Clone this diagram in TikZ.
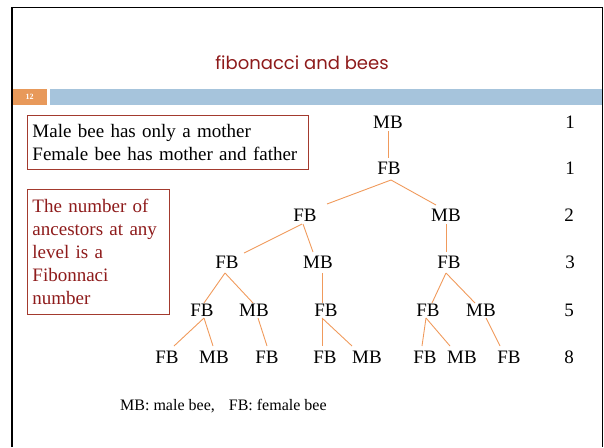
\documentclass[tikz,border=0pt]{standalone}
\usepackage{fontspec}
\setmainfont{Liberation Serif}
\newfontfamily\titlefont{Poppins}
\usetikzlibrary{calc}
\definecolor{titlered}{HTML}{8E1B1B}
\definecolor{boxred}{HTML}{A33A2E}
\definecolor{edgeor}{HTML}{F09A5C}
\definecolor{barorange}{HTML}{E8995A}
\definecolor{barblue}{HTML}{A6C4DC}
\tikzset{
  bee/.style={inner sep=0pt, font=\fontsize{19}{23}\selectfont},
  lvl/.style={inner sep=0pt, font=\fontsize{19}{23}\selectfont},
  edge/.style={draw=edgeor, line width=0.9pt},
  infobox/.style={draw=boxred, line width=0.9pt, anchor=north west, align=left,
    inner xsep=5pt, inner ysep=0pt, font=\fontsize{19}{23}\selectfont},
}
\begin{document}
\begin{tikzpicture}[x=1pt,y=-1pt]
\useasboundingbox (0,0) rectangle (604,447);
% frame
\draw[line width=2.5pt] (12,447) -- (12,7.5);
\draw[line width=1.5pt] (11,7.5) -- (602.5,7.5) -- (602.5,447);
% title
\node[anchor=base, text=titlered, font=\titlefont\fontsize{18}{22}\selectfont] (title) at (302,69) {fibonacci and bees};
% bars
\fill[barorange] (13,89) rectangle (47,105);
\node[text=white, font=\bfseries\fontsize{8}{9}\selectfont] (pnum) at (29.5,97) {12};
\fill[barblue] (50,89) rectangle (602,105);
% boxes
\node[infobox, text width=271pt, minimum height=54pt] (box1) at (27,115)
  {Male bee has only a mother\\Female bee has mother and father};
\node[infobox, text width=132pt, minimum height=125pt, text=titlered] (box2) at (27,189)
  {The number of\\ancestors at any\\level is a\\Fibonnaci\\number};
% tree
\node[bee] (a1) at (388,122) {MB};
\node[bee] (b1) at (389,168) {FB};
\node[bee] (c1) at (305,215) {FB};
\node[bee] (c2) at (446,215) {MB};
\node[bee] (d1) at (227,262) {FB};
\node[bee] (d2) at (318,262) {MB};
\node[bee] (d3) at (449,262) {FB};
\node[bee] (e1) at (202,310) {FB};
\node[bee] (e2) at (254,310) {MB};
\node[bee] (e3) at (326,310) {FB};
\node[bee] (e4) at (428,310) {FB};
\node[bee] (e5) at (481,310) {MB};
\node[bee] (f1) at (167,357) {FB};
\node[bee] (f2) at (214,357) {MB};
\node[bee] (f3) at (267,357) {FB};
\node[bee] (f4) at (325,357) {FB};
\node[bee] (f5) at (367,357) {MB};
\node[bee] (f6) at (425,357) {FB};
\node[bee] (f7) at (462,357) {MB};
\node[bee] (f8) at (509,357) {FB};
% level counts
\node[lvl] (n1) at (570,122) {1};
\node[lvl] (n2) at (570,168) {1};
\node[lvl] (n3) at (569,215) {2};
\node[lvl] (n4) at (570,262) {3};
\node[lvl] (n5) at (569,310) {5};
\node[lvl] (n6) at (569,357) {8};
% edges
\draw[edge] ($(a1)+(0,9)$) -- ($(b1)+(-1,-10)$);
\draw[edge] ($(b1)+(2,12)$) -- ($(c1)+(22,-11)$);
\draw[edge] ($(b1)+(2,12)$) -- ($(c2)+(-10,-10)$);
\draw[edge] ($(c1)+(-3,9)$) -- ($(d1)+(17,-9)$);
\draw[edge] ($(c1)+(-2,9)$) -- ($(d2)+(-5,-10)$);
\draw[edge] ($(c2)+(0,9)$) -- ($(d3)+(-3,-10)$);
\draw[edge] ($(d1)+(-2,11)$) -- ($(e1)+(2,-7)$);
\draw[edge] ($(d1)+(-2,11)$) -- ($(e2)+(-1,-7)$);
\draw[edge] ($(d2)+(4,11)$) -- ($(e3)+(-4,-7)$);
\draw[edge] ($(d3)+(-3,11)$) -- ($(e4)+(4,-7)$);
\draw[edge] ($(d3)+(-3,11)$) -- ($(e5)+(-6,-7)$);
\draw[edge] ($(e1)+(2,8)$) -- ($(f1)+(7,-11)$);
\draw[edge] ($(e1)+(2,8)$) -- ($(f2)+(-1,-11)$);
\draw[edge] ($(e2)+(4,8)$) -- ($(f3)+(0,-11)$);
\draw[edge] ($(e3)+(-4,8)$) -- ($(f4)+(-3,-11)$);
\draw[edge] ($(e3)+(-4,8)$) -- ($(f5)+(-15,-11)$);
\draw[edge] ($(e4)+(-2,8)$) -- ($(f6)+(-3,-11)$);
\draw[edge] ($(e4)+(-2,8)$) -- ($(f7)+(-12,-11)$);
\draw[edge] ($(e5)+(5,8)$) -- ($(f8)+(-9,-11)$);
% legend
\node[anchor=base west, inner sep=0pt, font=\fontsize{16}{19}\selectfont] (legend) at (120,410)
  {MB: male bee,\hspace{14pt}FB: female bee};
\end{tikzpicture}
\end{document}
